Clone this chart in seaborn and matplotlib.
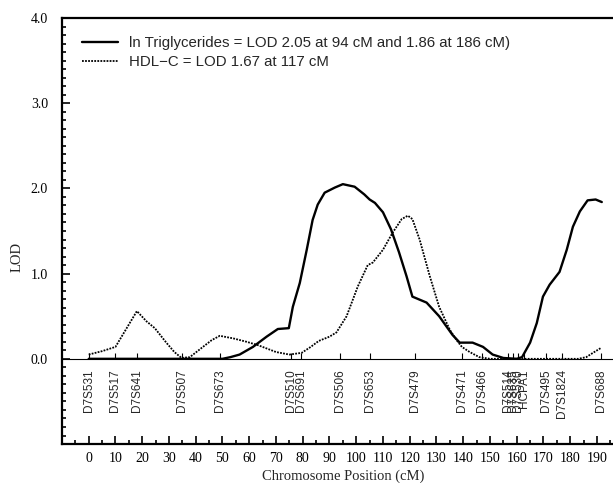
import matplotlib
matplotlib.use("Agg")
import matplotlib.pyplot as plt
import seaborn as sns
import pandas as pd
from matplotlib.ticker import MultipleLocator, FixedLocator

# Courbes LOD
tg_pos = [0, 10, 20, 30, 40, 50, 53, 56.4, 61.4, 66.5, 70.7, 74.8, 76.3, 78.9,
          81.5, 83.7, 85.6, 88.2, 92, 95, 99.4, 103, 105, 107, 110, 113, 116,
          118.8, 121, 126.3, 131, 136, 138.7, 143.5, 147.4, 151, 155, 160, 162,
          165, 167.5, 169.8, 172.3, 176, 178.7, 181, 183.6, 186.5, 189.5, 191.8]
tg_lod = [0, 0, 0, 0, 0, 0, 0.02, 0.05, 0.14, 0.26, 0.35, 0.36, 0.61, 0.89,
          1.28, 1.63, 1.81, 1.95, 2.01, 2.05, 2.02, 1.93, 1.87, 1.83, 1.72, 1.52,
          1.25, 0.97, 0.73, 0.66, 0.5, 0.28, 0.19, 0.19, 0.14, 0.05, 0.01, 0,
          0.02, 0.19, 0.42, 0.73, 0.87, 1.02, 1.28, 1.55, 1.73, 1.86, 1.87, 1.84]

hdl_pos = [0, 5, 10, 14, 18, 21.6, 24.7, 29, 32, 34.7, 37.8, 42.7, 46, 49, 54,
           59, 63.3, 70, 75, 79.6, 83, 86, 90, 92.6, 96.4, 100.6, 104.3, 106.2,
           110, 113.6, 117, 119.3, 121, 123.7, 127.5, 131, 135, 137.5, 139.5,
           142.4, 146, 150, 160, 170, 183, 186, 188.5, 191.6]
hdl_lod = [0.05, 0.09, 0.14, 0.35, 0.56, 0.44, 0.36, 0.19, 0.08, 0.01, 0.02,
           0.14, 0.22, 0.27, 0.24, 0.2, 0.16, 0.08, 0.05, 0.07, 0.14, 0.21, 0.26,
           0.31, 0.5, 0.85, 1.1, 1.13, 1.28, 1.48, 1.64, 1.68, 1.64, 1.4, 0.97,
           0.61, 0.34, 0.22, 0.14, 0.08, 0.02, 0, 0, 0, 0, 0.02, 0.07, 0.13]

# Marqueurs sur le chromosome 7
marqueurs = ["D7S531", "D7S517", "D7S641", "D7S507", "D7S673", "D7S510",
             "D7S691", "D7S506", "D7S653", "D7S479", "D7S471", "D7S466",
             "D7S514", "D7S635", "D7S530", "HCPA1", "D7S495", "D7S1824", "D7S688"]
marqueurs_pos = [0, 10, 18, 35, 49, 75.5, 79.5, 94, 105, 122, 139.5, 147,
                 156.6, 158.5, 160.4, 162.6, 171, 177, 191.5]

label_tg = "ln Triglycerides = LOD 2.05 at 94 cM and 1.86 at 186 cM)"
label_hdl = "HDL\u2212C = LOD 1.67 at 117 cM"

sns.set_style("ticks")
plt.rcParams["font.family"] = ["Liberation Serif", "DejaVu Serif"]

tg_df = pd.DataFrame({"pos": tg_pos, "lod": tg_lod})
hdl_df = pd.DataFrame({"pos": hdl_pos, "lod": hdl_lod})

fig = plt.figure(figsize=(6.13, 4.83), dpi=100)
ax = fig.add_axes([0.1011, 0.0807, 0.9164, 0.882])

# ligne de base et repères des marqueurs
ax.axhline(0, color="black", lw=0.8, zorder=1)
ax.vlines(marqueurs_pos, 0, 0.07, color="black", lw=0.8)

sns.lineplot(data=tg_df, x="pos", y="lod", ax=ax, color="black", lw=1.7,
             label=label_tg)
sns.lineplot(data=hdl_df, x="pos", y="lod", ax=ax, color="black", lw=1.3,
             linestyle=(0, (1, 0.7)), label=label_hdl)

for nom, p in zip(marqueurs, marqueurs_pos):
    ax.text(p, -0.12, nom, rotation=90, ha="center", va="top",
            fontsize=8.5, family=["Liberation Sans", "DejaVu Sans"])

ax.set_xlim(-10, 200)
ax.set_ylim(-1, 4)
ax.set_xticks(range(0, 200, 10))
ax.xaxis.set_minor_locator(FixedLocator([-5] + list(range(5, 200, 10))))
ax.set_yticks([0, 1, 2, 3, 4])
ax.set_yticklabels(["0.0", "1.0", "2.0", "3.0", "4.0"])
ax.yaxis.set_minor_locator(MultipleLocator(0.1))

ax.tick_params(which="both", direction="in", color="black", width=1.2)
ax.tick_params(which="major", length=6, labelsize=10, colors="black")
ax.tick_params(axis="x", which="major", pad=6)
ax.tick_params(axis="y", which="major", pad=10)
ax.tick_params(which="minor", length=3)

for s in ["left", "bottom", "top"]:
    ax.spines[s].set_linewidth(1.6)
    ax.spines[s].set_color("black")
ax.spines["right"].set_visible(False)

ax.set_xlabel("Chromosome Position (cM)", fontsize=10.5, labelpad=3)
ax.set_ylabel("LOD", fontsize=10.5)
ax.yaxis.set_label_coords(-0.068, 0.44)

leg = ax.legend(loc="upper left", bbox_to_anchor=(0.036, 0.957), frameon=False,
                prop={"family": ["Liberation Sans", "DejaVu Sans"], "size": 10.8},
                handlelength=2.4, handletextpad=0.7, labelspacing=0.3,
                borderpad=0, borderaxespad=0)

fig.savefig("out.png", dpi=100)
